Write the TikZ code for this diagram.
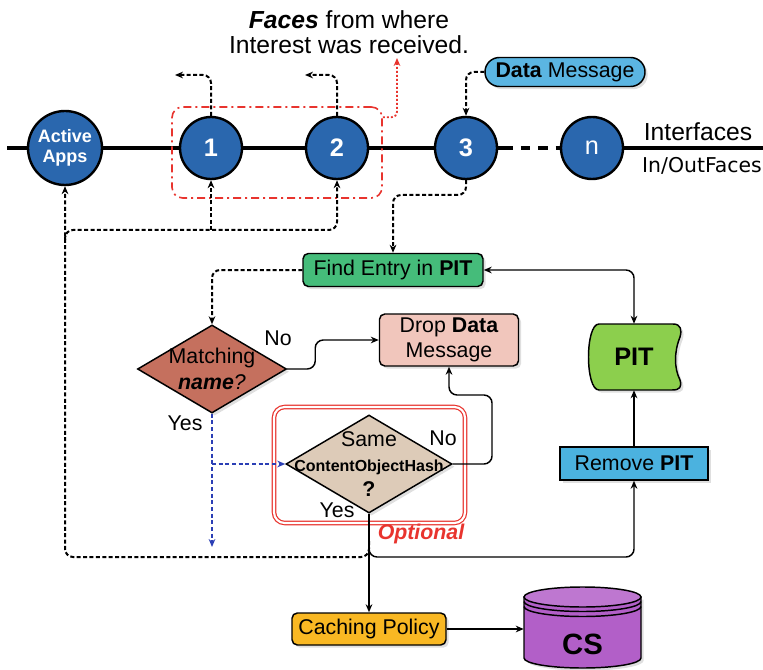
\documentclass[tikz,border=0pt]{standalone}
\usepackage{fontspec}
\setmainfont{Liberation Sans}
\newfontfamily\dejavu{DejaVu Sans}
\usepackage{xcolor}
\usetikzlibrary{shapes.geometric,arrows.meta,calc,backgrounds,shadows}

\definecolor{faceblue}{HTML}{2A67AE}
\definecolor{msgblue}{HTML}{5BB5E2}
\definecolor{findgreen}{HTML}{45BC7A}
\definecolor{droppink}{HTML}{F1C6BC}
\definecolor{matchred}{HTML}{C5705E}
\definecolor{cohtan}{HTML}{DDCBB8}
\definecolor{pitgreen}{HTML}{8CCF4D}
\definecolor{removeblue}{HTML}{4BB2DF}
\definecolor{cacheorange}{HTML}{F9B823}
\definecolor{cspurple}{HTML}{B25FC8}
\definecolor{optred}{HTML}{E8342E}
\definecolor{yesblue}{HTML}{2B3FB5}

\begin{document}
\begin{tikzpicture}[x=0.75pt, y=-0.75pt, >={Stealth[length=6pt,width=5pt]},
    face/.style = {draw, circle, line width=1.8pt, fill=faceblue, text=white, minimum size=46.5pt, inner sep=0pt, font=\fontsize{19}{21}\selectfont\bfseries},
    box/.style = {draw, line width=1.1pt, rounded corners=4pt, inner sep=0pt, align=center, font=\fontsize{16}{19}\selectfont},
    decision/.style = {draw, diamond, line width=1.1pt, inner sep=0pt},
    txt/.style = {font=\fontsize{16}{19}\selectfont, inner sep=0pt, align=center},
    shadowed/.style = {drop shadow={opacity=0.25, shadow xshift=2pt, shadow yshift=-2pt}},
    wire/.style = {line width=2.6pt},
    link/.style = {->, line width=1.1pt, rounded corners=6pt},
    dsh/.style = {->, line width=1.5pt, dash pattern=on 3pt off 1.8pt, rounded corners=6pt},
    bluedsh/.style = {->, line width=1.3pt, dash pattern=on 3pt off 2pt, yesblue},
    reddot/.style = {->, line width=1.4pt, dash pattern=on 1.5pt off 1.5pt, optred, rounded corners=4pt}]
    \useasboundingbox (0,0) rectangle (763,670);

    \node[txt, font=\fontsize{18.5}{19}\selectfont] (title) at (349,32) {\textbf{\textit{Faces}} from where\\Interest was received.};

    % faces on the wire
    \node[draw=optred, line width=1.2pt, dash pattern=on 6pt off 3pt on 1.5pt off 3pt, rounded corners=8pt, minimum width=157.5pt, minimum height=68.25pt] (facebox) at (277,152.5) {};
    \node[face, minimum size=55.5pt, font=\fontsize{13.5}{15}\selectfont\bfseries, align=center] (app) at (65,148) {Active\\Apps};
    \node[face] (c1) at (211,148) {1};
    \node[face] (c2) at (337,148) {2};
    \node[face] (c3) at (466,148) {3};
    \node[face, font=\fontsize{19}{21}\selectfont] (cn) at (592,148) {n};
    \node[txt, font=\fontsize{18.5}{20}\selectfont] (iface) at (698,132) {Interfaces};
    \node[txt, font=\dejavu\fontsize{15.3}{17}\selectfont] (inout) at (702,166) {In/OutFaces};

    \coordinate (lineL) at (7,148);
    \coordinate (lineR) at (763,148);
    \begin{scope}[on background layer]
        \draw[wire] (lineL) -- (c3);
        \draw[wire, dash pattern=on 11pt off 6pt on 7pt off 6pt on 7pt off 6pt] (c3) -- (cn);
        \draw[wire] (cn) -- (lineR);
    \end{scope}

    \node[box, fill=msgblue, rounded corners=10.8pt, minimum width=120pt, minimum height=21.75pt, shadowed] (msg) at (565,72) {\textbf{Data} Message};
    \draw[dsh] (msg) -| (c3);

    \coordinate (out1) at (175,75);
    \coordinate (out2) at (305,75);
    \draw[dsh] (c1) |- (out1);
    \draw[dsh] (c2) |- (out2);
    \coordinate (redtip) at (397,58);
    \draw[reddot] ($(facebox.north east)+(0,11)$) -| (redtip);

    % lookup
    \node[box, fill=findgreen, minimum width=135pt, minimum height=24.75pt, shadowed] (find) at (393,270) {Find Entry in \textbf{PIT}};
    \coordinate (row3) at (0,195);
    \draw[dsh] (c3) |- (find |- row3) -- (find);

    \node[decision, fill=matchred, minimum width=111.75pt, minimum height=66pt, shadowed,
        label={[txt]center:Matching\\\textbf{\textit{name}}\textit{?}}] (match) at (212,369) {};
    \draw[dsh] (find) -| (match);
    \node[box, fill=droppink, minimum width=104.25pt, minimum height=39pt, shadowed] (drop) at (449,340) {Drop \textbf{Data}\\Message};
    \draw[link] (match.east) -- ++(28,0) |- (drop);
    \node[txt] (no1) at (278,338) {No};
    \node[txt] (yes1) at (185,423) {Yes};

    % optional check
    \node[draw=optred, line width=0.9pt, double=white, double distance=1.6pt, rounded corners=8pt, minimum width=143.25pt, minimum height=87pt] (optbox) at (369.5,465) {};
    \node[txt, font=\fontsize{16}{19}\selectfont\bfseries\itshape, text=optred] (opt) at (421,534) {Optional};
    \node[decision, fill=cohtan, minimum width=124.5pt, minimum height=73.5pt, shadowed,
        label={[txt]center:Same\\{\fontsize{12}{14}\selectfont\bfseries ContentObjectHash}\\\textbf{?}}] (coh) at (369,464) {};
    \node[txt] (no2) at (443,438) {No};
    \node[txt] (yes2) at (337,510) {Yes};

    \coordinate (bluetip) at (212,547);
    \draw[bluedsh] (match.south) -- (bluetip);
    \draw[bluedsh] (match.south |- coh.west) -- (coh.west);
    \coordinate (noturn) at (492,395);
    \draw[link] (coh.east) -| (noturn) -| (drop);

    % pit
    \draw[line width=1.1pt, fill=pitgreen, shadowed] (599,324) -- (673,324) .. controls (681,324) and (682,330) .. (680,337)
        .. controls (674,352) and (674,368) .. (680,380) .. controls (682,387) and (680,390) .. (672,390) -- (599,390)
        .. controls (585,390) and (585,324) .. (599,324) -- cycle;
    \node[font=\fontsize{19}{21}\selectfont\bfseries, minimum width=69.75pt, minimum height=49.5pt, inner sep=0pt] (pit) at (634,357) {PIT};
    \draw[<->, line width=1.1pt, rounded corners=6pt] (find) -| (pit);
    \node[box, rounded corners=0pt, fill=removeblue, minimum width=111pt, minimum height=24.75pt, shadowed] (remove) at (634,463.5) {Remove \textbf{PIT}};
    \draw[link] (remove) -- (pit);

    % store
    \node[box, fill=cacheorange, minimum width=115.5pt, minimum height=24pt, shadowed] (cache) at (369,629) {Caching Policy};
    \draw[link] (coh) -- (cache);
    \coordinate (split) at (369,541);
    \coordinate (lowrow) at (0,557);
    \coordinate (midrow) at (0,230);
    \draw[link] (split) |- (remove |- lowrow) -- (remove);
    \draw[dsh] (split) |- (app |- lowrow) -- (app);
    \draw[dsh] ($(app |- midrow)+(0,10)$) |- (c2 |- midrow) -- (c2);
    \draw[dsh] (c1 |- midrow) -- (c1);

    \draw[line width=1.1pt, fill=cspurple, shadowed] (524,597) -- (524,658) arc[start angle=180, end angle=0, x radius=58.5, y radius=10] -- (641,597) -- cycle;
    \draw[line width=1.1pt, fill=cspurple!85!white] (582.5,597) ellipse[x radius=58.5, y radius=10];
    \draw[line width=1.1pt] (524,601.5) arc[start angle=180, end angle=0, x radius=58.5, y radius=10];
    \draw[line width=1.1pt] (524,606.5) arc[start angle=180, end angle=0, x radius=58.5, y radius=10];
    \node[font=\fontsize{22}{24}\selectfont\bfseries, minimum width=87.75pt, minimum height=40pt, inner sep=0pt] (cs) at (582.5,644) {CS};
    \draw[link] (cache) -- (cache -| cs.west);
\end{tikzpicture}
\end{document}
